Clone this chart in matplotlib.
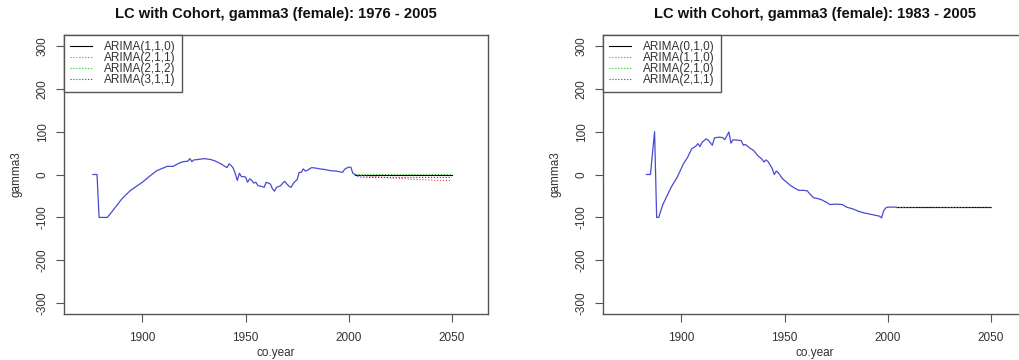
import matplotlib
matplotlib.use("Agg")
import matplotlib.pyplot as plt

plt.rcParams['font.family'] = ['Liberation Sans', 'DejaVu Sans']

# ---- left panel: 1976 - 2005 ----
years_a = [1876, 1878, 1879, 1880, 1882, 1883, 1886, 1890, 1894, 1900, 1904, 1907, 1910,
           1912, 1915, 1916, 1918, 1920, 1922, 1923, 1924, 1925, 1927, 1930, 1933, 1935,
           1938, 1940, 1941, 1942, 1943, 1944, 1945, 1946, 1947, 1948, 1949, 1950, 1951,
           1952, 1953, 1954, 1955, 1956, 1958, 1959, 1960, 1961, 1962, 1963, 1964, 1965,
           1966, 1967, 1968, 1969, 1970, 1971, 1972, 1973, 1974, 1975, 1976, 1977, 1978,
           1979, 1980, 1982, 1984, 1986, 1988, 1991, 1994, 1997, 1998, 1999, 2000, 2001,
           2002, 2003]
hist_a = [0, 0, -100, -100, -100, -100, -82, -57, -38, -18, -2, 9, 15,
          19, 19, 22, 27, 30, 31, 37, 30, 34, 35, 37, 35, 32,
          25, 19, 16, 25, 21, 15, 2, -14, 3, -5, -5, -6, -18,
          -10, -14, -20, -18, -26, -28, -30, -18, -20, -22, -33, -39, -30,
          -28, -26, -20, -16, -22, -27, -30, -22, -16, -12, 5, 5, 13,
          8, 10, 16, 15, 13, 12, 9, 8, 5, 12, 15, 17, 17,
          3, 0]
fc_years_a = [2003, 2005, 2010, 2015, 2020, 2025, 2030, 2035, 2040, 2045, 2050]
fc_a = {
    'ARIMA(1,1,0)': [0, 0, 0, 0, 0, 0, 0, 0, 0, 0, 0],
    'ARIMA(2,1,1)': [0, -2, -4, -6, -8, -9, -11, -12, -13, -14, -14],
    'ARIMA(2,1,2)': [1, 1, 1, 1, 1, 1, 1, 1, 1, 1, 1],
    'ARIMA(3,1,1)': [-1, -6, -7, -7, -7, -7, -7, -7, -7, -7, -7],
}

# ---- right panel: 1983 - 2005 ----
years_b = [1883, 1884, 1885, 1886, 1887, 1888, 1889, 1891, 1893, 1895, 1898, 1901, 1903,
           1905, 1907, 1908, 1909, 1910, 1912, 1913, 1915, 1916, 1918, 1920, 1921, 1922,
           1923, 1924, 1925, 1927, 1929, 1930, 1931, 1933, 1935, 1937, 1939, 1940, 1941,
           1942, 1944, 1945, 1946, 1947, 1949, 1951, 1953, 1955, 1957, 1959, 1961, 1962,
           1964, 1966, 1968, 1970, 1972, 1975, 1978, 1980, 1983, 1986, 1989, 1991, 1994,
           1996, 1997, 1998, 1999, 2000, 2002, 2004]
hist_b = [0, 0, 0, 50, 100, -100, -100, -70, -50, -30, -6, 25, 40,
          60, 66, 72, 65, 75, 83, 80, 68, 85, 87, 86, 81, 90,
          99, 73, 81, 80, 79, 68, 70, 62, 56, 44, 36, 29, 34,
          30, 14, 0, 8, 4, -10, -18, -26, -32, -37, -37, -38, -44,
          -54, -56, -59, -64, -70, -69, -70, -76, -80, -86, -90, -92, -95,
          -97, -101, -85, -78, -76, -76, -76]
fc_years_b = [2004, 2010, 2020, 2030, 2040, 2050]
fc_b = {
    'ARIMA(0,1,0)': [-76, -76, -76, -76, -76, -76],
    'ARIMA(1,1,0)': [-76, -76, -76, -76, -76, -76],
    'ARIMA(2,1,0)': [-76, -76, -76, -76, -76, -76],
    'ARIMA(2,1,1)': [-76, -76, -76, -76, -76, -76],
}

colors = ['black', '#ff4040', '#20c020', '#3030ff']
styles = ['-', ':', ':', ':']
frame = '#555555'

W, H = 1019, 360
fig = plt.figure(figsize=(W / 100, H / 100), dpi=100)


def panel(left, title, years, hist, fc_years, fc):
    ax = fig.add_axes([left / W, 46 / H, 424 / W, 279 / H])
    handles = []
    for (name, vals), c, ls in zip(fc.items(), colors, styles):
        h, = ax.plot(fc_years, vals, color=c, linestyle=ls, linewidth=0.8, label=name)
        handles.append(h)
    ax.plot(years, hist, color='#4a4ad0', linewidth=0.9)
    ax.set_xlim(1862, 2067.5)
    ax.set_ylim(-325, 325)
    ax.set_xticks([1900, 1950, 2000, 2050])
    ax.set_yticks([-300, -200, -100, 0, 100, 200, 300])
    ax.set_yticklabels(['-300', '-200', '-100', '0', '100', '200', '300'],
                       rotation=90, va='center')
    ax.tick_params(axis='x', pad=7)
    ax.tick_params(direction='out', length=6, width=0.8, colors=frame,
                   labelcolor='#333333', labelsize=8.5)
    ax.tick_params(axis='y', pad=5)
    for s in ax.spines.values():
        s.set_color(frame)
        s.set_linewidth(1.0)
    ax.set_title(title, fontsize=10.6, fontweight='bold', pad=12, color='#111111')
    ax.set_xlabel('co.year', fontsize=8.5, color='#333333', labelpad=2)
    ax.set_ylabel('gamma3', fontsize=8.5, color='#333333', labelpad=10)
    leg = ax.legend(handles=handles, loc='upper left', bbox_to_anchor=(0, 1),
                    borderaxespad=0, fontsize=8.5, handlelength=1.9,
                    handletextpad=1.0, labelspacing=-0.08, borderpad=0.5,
                    fancybox=False, framealpha=1)
    leg.get_frame().set_edgecolor(frame)
    leg.get_frame().set_linewidth(1.0)
    for t in leg.get_texts():
        t.set_color('#333333')
    return ax


panel(64, 'LC with Cohort, gamma3 (female): 1976 - 2005', years_a, hist_a, fc_years_a, fc_a)
panel(603, 'LC with Cohort, gamma3 (female): 1983 - 2005', years_b, hist_b, fc_years_b, fc_b)

fig.savefig('out.png', dpi=100)
